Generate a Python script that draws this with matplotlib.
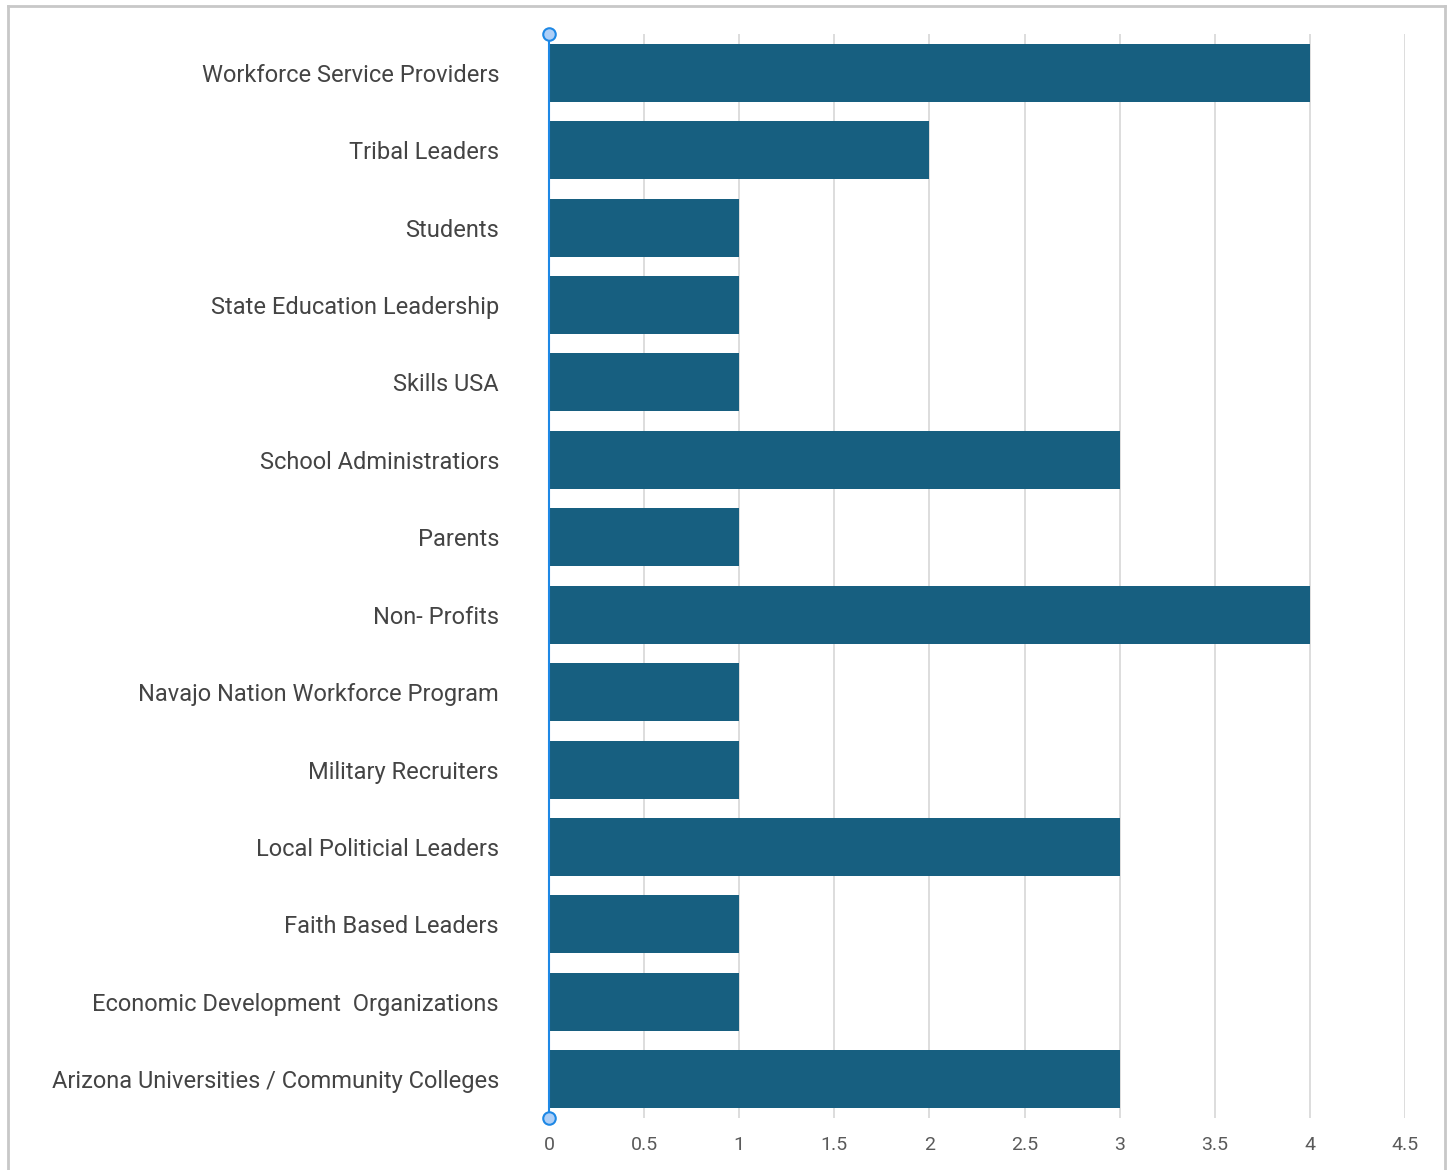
import matplotlib
matplotlib.use('Agg')
from matplotlib import pyplot as plt
from matplotlib.lines import Line2D

categorias = ['Workforce Service Providers', 'Tribal Leaders', 'Students',
              'State Education Leadership', 'Skills USA', 'School Administratiors',
              'Parents', 'Non- Profits', 'Navajo Nation Workforce Program',
              'Military Recruiters', 'Local Politicial Leaders', 'Faith Based Leaders',
              'Economic Development  Organizations',
              'Arizona Universities / Community Colleges']
valores = [4, 2, 1, 1, 1, 3, 1, 4, 1, 1, 3, 1, 1, 3]
ticks_x = [0, 0.5, 1, 1.5, 2, 2.5, 3, 3.5, 4, 4.5]

plt.rcParams['font.family'] = ['Roboto', 'DejaVu Sans']

fig = plt.figure(figsize=(14.5, 11.7), dpi=100)
ax = fig.add_axes([549/1450, 1 - 1118/1170, (1405 - 549)/1450, (1118 - 34)/1170])

pos = list(range(len(categorias)))
ax.barh(pos, valores, height=0.75, color='#175f80', zorder=3)
ax.set_ylim(len(categorias) - 0.5, -0.5)
ax.set_xlim(0, 4.5)
ax.set_xticks(ticks_x)
ax.set_xticklabels([('%g' % t) for t in ticks_x])
ax.set_yticks(pos)
ax.set_yticklabels(categorias)

ax.grid(axis='x', color='#dadada', linewidth=1.3, zorder=0)
ax.tick_params(axis='x', length=0, pad=13, labelsize=14, labelcolor='#5a5a5a')
ax.tick_params(axis='y', length=0, pad=36, labelsize=17, labelcolor='#444444')
for lado in ['top', 'right', 'bottom']:
  ax.spines[lado].set_visible(False)
ax.spines['left'].set_color('#1e88e5')
ax.spines['left'].set_linewidth(1.5)
ax.spines['left'].set_zorder(4)

# puntos de seleccion
ax.plot([0, 0], list(ax.get_ylim()), linestyle='none', marker='o', markersize=9,
        markerfacecolor='#aecff7', markeredgecolor='#1e88e5', markeredgewidth=1.5,
        clip_on=False, zorder=5)

# borde del marco
fig.add_artist(Line2D([8/1450, 1445/1450], [1 - 6/1170, 1 - 6/1170], color='#c8c8c8', linewidth=2))
fig.add_artist(Line2D([8/1450, 8/1450], [0, 1 - 6/1170], color='#c8c8c8', linewidth=2))
fig.add_artist(Line2D([1445/1450, 1445/1450], [0, 1 - 6/1170], color='#c8c8c8', linewidth=2))

fig.savefig('out.png', dpi=100)
